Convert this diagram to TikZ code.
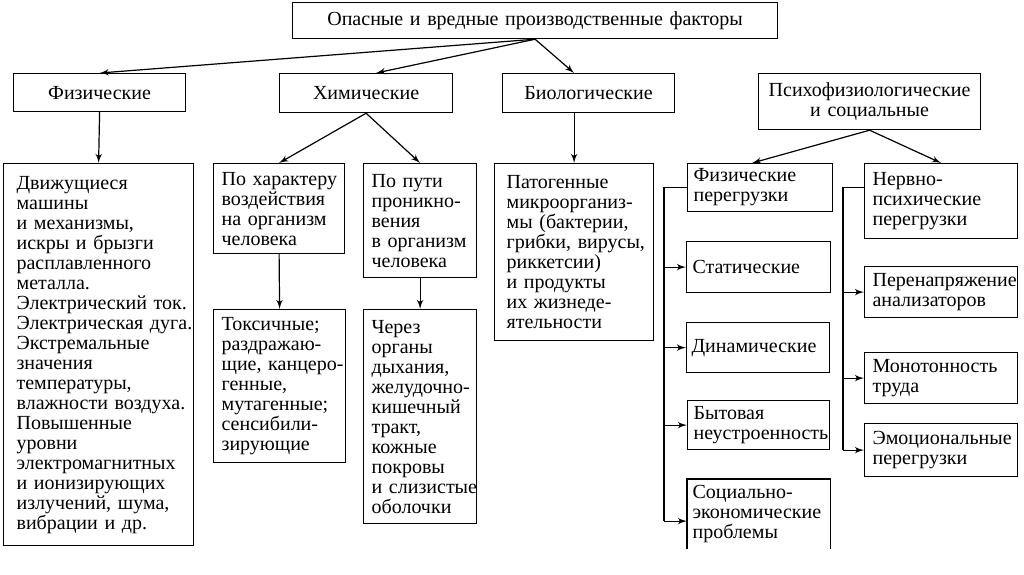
\documentclass[tikz,border=0pt]{standalone}
\usepackage{fontspec}
\setmainfont{Liberation Serif}
\usetikzlibrary{arrows}

\begin{document}
\begin{tikzpicture}[x=0.5pt,y=-0.5pt,>=latex',line width=0.6pt]
  \tikzstyle{factor}=[draw,anchor=north west,align=left,inner xsep=4pt,inner ysep=2pt,font=\fontsize{10}{10}\selectfont]
  \tikzstyle{head}=[factor,align=center]
  \tikzstyle{line}=[draw,->]
  \useasboundingbox (0,0) rectangle (1024,574);
  % top
  \node[head,text width=234.5pt,minimum height=18pt] (top) at (292,2) {Опасные и вредные производственные факторы};
  % groups
  \node[head,text width=78pt,minimum height=19pt]   (phys) at (13,73)  {Физические};
  \node[head,text width=78.5pt,minimum height=19.5pt] (chem) at (279,73) {Химические};
  \node[head,text width=78pt,minimum height=19.5pt] (bio)  at (502,73) {Биологические};
  \node[head,text width=103pt,minimum height=28pt]  (psy)  at (758,73) {Психофизиологические\\и социальные};
  % physical
  \node[factor,inner xsep=6.5pt,text width=82pt,minimum height=191pt] (moving) at (3,163) {Движущиеся\\машины\\и~механизмы,\\искры~и~брызги\\расплавленного\\металла.\\Электрический~ток.\\Электрическая~дуга.\\Экстремальные\\значения\\температуры,\\влажности~воздуха.\\Повышенные\\уровни\\электромагнитных\\и~ионизирующих\\излучений,~шума,\\вибрации~и~др.};
  % chemical
  \node[factor,text width=57.5pt,minimum height=45pt]   (action) at (213,163) {По~характеру\\воздействия\\на~организм\\человека};
  \node[factor,text width=58pt,minimum height=76.5pt]   (toxic)  at (213,309) {Токсичные;\\\mbox{раздражаю-}\\\mbox{щие,~канцеро-}\\генные,\\мутагенные;\\\mbox{сенсибили-}\\зирующие};
  \node[factor,text width=48.5pt,minimum height=57pt]   (path)   at (363,163) {По~пути\\\mbox{проникно-}\\вения\\в~организм\\человека};
  \node[factor,text width=48.5pt,minimum height=107pt]  (organs) at (363,309) {Через\\органы\\дыхания,\\\mbox{желудочно-}\\кишечный\\тракт,\\кожные\\покровы\\и~слизистые\\оболочки};
  % biological
  \node[factor,inner xsep=6pt,text width=67.5pt,minimum height=88.5pt] (germs) at (494,163) {Патогенные\\\mbox{микроорганиз-}\\мы~(бактерии,\\грибки,~вирусы,\\риккетсии)\\и~продукты\\\mbox{их~жизнеде-}\\ятельности};
  % psychophysiological
  \node[factor,inner xsep=3pt,text width=66.5pt,minimum height=24pt]   (physload)  at (687,163) {Физические\\перегрузки};
  \node[factor,inner xsep=3pt,text width=66pt,minimum height=25.5pt]   (static)    at (686,241) {Статические};
  \node[factor,inner xsep=2.5pt,text width=66.5pt,minimum height=25pt] (dynamic)   at (686,322) {Динамические};
  \node[factor,inner xsep=3pt,text width=65pt,minimum height=24.5pt]   (household) at (687,400) {Бытовая\\неустроенность};
  \node[factor,draw=none,inner xsep=2.5pt,text width=66pt,minimum height=34.5pt] (social) at (687,479) {\mbox{Социально-}\\экономические\\проблемы};
  \draw (social.south west) -- (social.north west) -- (social.north east) -- (social.south east);
  \node[factor,text width=68.5pt,minimum height=37.5pt] (nervous)  at (864,163) {\mbox{Нервно-}\\психические\\перегрузки};
  \node[factor,text width=68.5pt,minimum height=25.5pt] (analyzer) at (864,266) {Перенапряжение\\анализаторов};
  \node[factor,text width=68.5pt,minimum height=25.5pt] (monotony) at (864,352) {Монотонность\\труда};
  \node[factor,text width=68.5pt,minimum height=26.5pt] (emotion)  at (864,423) {Эмоциональные\\перегрузки};
  % connectors
  \path[line] (top.south) -- (phys.north);
  \path[line] (top.south) -- ([xshift=5pt]chem.north);
  \path[line] (top.south) -- (bio.north -| germs.north);
  \path[line] (psy.south) -- ([xshift=-4pt]physload.north);
  \path[line] (psy.south) -- (nervous.north);
  \path[line] (phys.south) -- (moving.north);
  \path[line] (chem.south) -- (action.north);
  \path[line] (chem.south) -- (path.north);
  \path[line] (bio.south -| germs.north) -- (germs.north);
  \path[line] (action.south) -- (toxic.north);
  \path[line] (path.south) -- (organs.north);
  % left bus
  \coordinate (lbus) at (664,0);
  \coordinate (socin) at ([yshift=-3.5pt]social.west);
  \draw (physload.west) -- (lbus |- physload.west) -- (lbus |- socin);
  \foreach \n in {static,dynamic,household}
    \path[line] (lbus |- \n.west) -- (\n.west);
  \path[line] (lbus |- socin) -- (socin);
  % right bus
  \coordinate (rbus) at (843,0);
  \draw (nervous.west |- physload.west) -- (rbus |- physload.west) -- (rbus |- emotion.west);
  \foreach \n in {analyzer,monotony,emotion}
    \path[line] (rbus |- \n.west) -- (\n.west);
\end{tikzpicture}
\end{document}
